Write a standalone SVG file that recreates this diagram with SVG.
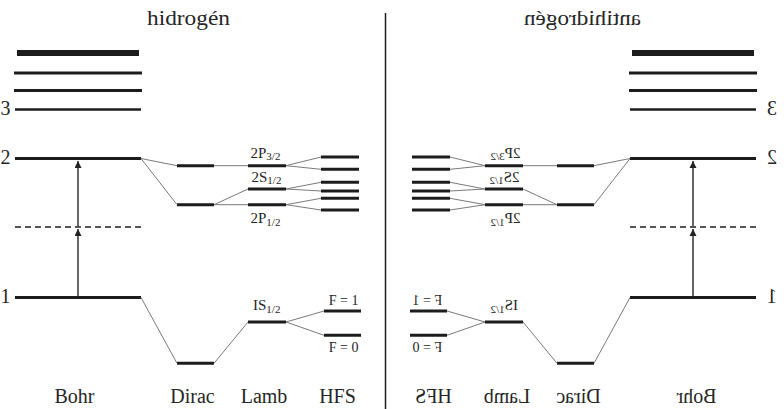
<svg xmlns="http://www.w3.org/2000/svg" width="784" height="409" viewBox="0 0 784 409">
  <style>
    .lvl { stroke: #1c1c1c; stroke-width: 3; fill: none; }
    .top { stroke-width: 6; }
    .n3 { stroke-width: 2.5; }
    .dash { stroke: #555; stroke-width: 2; stroke-dasharray: 6 4; }
    .conn { stroke: #7a7a7a; stroke-width: 1; fill: none; }
    .arrow { stroke: #333; stroke-width: 1.5; fill: none; marker-end: url(#head); }
    .divider { stroke: #1c1c1c; stroke-width: 1.5; }
    text { font-family: "Liberation Serif", "DejaVu Serif", serif; font-weight: normal; fill: #262626; }
    .title { font-size: 22px; text-anchor: middle; }
    .axis { font-size: 20px; text-anchor: middle; }
    .num { font-size: 20px; text-anchor: end; }
    .numL { font-size: 20px; text-anchor: start; }
    .term { font-size: 15px; }
    .sub { font-size: 11px; }
    .f { font-size: 14px; text-anchor: end; }
  </style>
  <defs>
    <marker id="head" markerUnits="userSpaceOnUse" markerWidth="8" markerHeight="8" refX="7" refY="3.5" orient="auto">
      <path d="M0,0 L7,3.5 L0,7 Z" fill="#222"/>
    </marker>
  </defs>

  <rect width="784" height="409" fill="#fff"/>

  <!-- vertical separator between the two halves -->
  <line class="divider" x1="385.5" y1="13" x2="385.5" y2="409"/>

  <!-- ===== hydrogen ===== -->
  <g id="hydrogen">
    <text class="title" x="188.5" y="25" textLength="83" lengthAdjust="spacingAndGlyphs">hidrogén</text>

    <g id="h-bohr">
      <line class="lvl top" x1="17" y1="53" x2="139" y2="53"/>
      <line class="lvl" x1="14" y1="73" x2="142" y2="73"/>
      <line class="lvl" x1="14" y1="90.5" x2="142" y2="90.5"/>
      <line class="lvl n3" x1="15" y1="109.5" x2="141" y2="109.5"/>
      <line class="lvl" x1="15" y1="158.5" x2="141" y2="158.5"/>
      <line class="dash" x1="15" y1="227" x2="141" y2="227"/>
      <line class="lvl" x1="15" y1="297.5" x2="141" y2="297.5"/>
      <text class="numL" x="0.5" y="115">3</text>
      <text class="numL" x="0.5" y="164">2</text>
      <text class="numL" x="0.5" y="303">1</text>
      <text class="axis" x="74.5" y="403">Bohr</text>
    </g>

    <g id="h-dirac">
      <line class="lvl" x1="177" y1="165.7" x2="214" y2="165.7"/>
      <line class="lvl" x1="177" y1="204.7" x2="214" y2="204.7"/>
      <line class="lvl" x1="177" y1="363.3" x2="214" y2="363.3"/>
      <text class="axis" x="192.5" y="403">Dirac</text>
    </g>

    <g id="h-lamb">
      <line class="lvl" x1="248" y1="165.7" x2="286" y2="165.7"/>
      <line class="lvl" x1="248" y1="189" x2="286" y2="189"/>
      <line class="lvl" x1="248" y1="204.7" x2="286" y2="204.7"/>
      <line class="lvl" x1="248" y1="322" x2="286" y2="322"/>
      <text class="term" x="250.5" y="157.5">2P<tspan class="sub" dy="2.5">3/2</tspan></text>
      <text class="term" x="251.5" y="181.5">2S<tspan class="sub" dy="2.5">1/2</tspan></text>
      <text class="term" x="250.5" y="223">2P<tspan class="sub" dy="2.5">1/2</tspan></text>
      <text class="term" x="253" y="310">IS<tspan class="sub" dy="2.5">1/2</tspan></text>
      <text class="axis" x="264" y="403">Lamb</text>
    </g>

    <g id="h-hfs">
      <line class="lvl" x1="321" y1="157" x2="359" y2="157"/>
      <line class="lvl" x1="321" y1="169.3" x2="359" y2="169.3"/>
      <line class="lvl" x1="321" y1="182.3" x2="359" y2="182.3"/>
      <line class="lvl" x1="321" y1="191" x2="359" y2="191"/>
      <line class="lvl" x1="321" y1="198.3" x2="359" y2="198.3"/>
      <line class="lvl" x1="321" y1="210" x2="359" y2="210"/>
      <line class="lvl" x1="324" y1="311" x2="361" y2="311"/>
      <line class="lvl" x1="324" y1="335.3" x2="361" y2="335.3"/>
      <text class="f" x="358.5" y="305">F = 1</text>
      <text class="f" x="358.5" y="351.5">F = 0</text>
      <text class="axis" x="337.5" y="403">HFS</text>
    </g>

    <g id="h-connectors">
      <path class="conn" d="M141,158.5 L177,165.7 M141,158.5 L177,204.7
        M214,165.7 L248,165.7 M214,204.7 L248,189 M214,204.7 L248,204.7
        M286,165.7 L321,157 M286,165.7 L321,169.3
        M286,189 L321,182.3 M286,189 L321,191
        M286,204.7 L321,198.3 M286,204.7 L321,210
        M141,297.5 L177,363.3 M214,363.3 L248,322
        M286,322 L324,311 M286,322 L324,335.3"/>
      <line class="arrow" x1="78" y1="226" x2="78" y2="161"/>
      <line class="arrow" x1="78" y1="296.5" x2="78" y2="229"/>
    </g>
  </g>

  <!-- ===== antihydrogen: mirror image about x = 385.5 ===== -->
  <g id="antihydrogen" transform="matrix(-1 0 0 1 771 0)">
    <text class="title" x="188.5" y="25" textLength="117" lengthAdjust="spacingAndGlyphs">antihidrogén</text>

    <g id="ah-bohr">
      <line class="lvl top" x1="17" y1="53" x2="139" y2="53"/>
      <line class="lvl" x1="14" y1="73" x2="142" y2="73"/>
      <line class="lvl" x1="14" y1="90.5" x2="142" y2="90.5"/>
      <line class="lvl n3" x1="15" y1="109.5" x2="141" y2="109.5"/>
      <line class="lvl" x1="15" y1="158.5" x2="141" y2="158.5"/>
      <line class="dash" x1="15" y1="227" x2="141" y2="227"/>
      <line class="lvl" x1="15" y1="297.5" x2="141" y2="297.5"/>
      <text class="num" x="4" y="115">3</text>
      <text class="num" x="4" y="164">2</text>
      <text class="num" x="4" y="303">1</text>
      <text class="axis" x="74.5" y="403">Bohr</text>
    </g>

    <g id="ah-dirac">
      <line class="lvl" x1="177" y1="165.7" x2="214" y2="165.7"/>
      <line class="lvl" x1="177" y1="204.7" x2="214" y2="204.7"/>
      <line class="lvl" x1="177" y1="363.3" x2="214" y2="363.3"/>
      <text class="axis" x="192.5" y="403">Dirac</text>
    </g>

    <g id="ah-lamb">
      <line class="lvl" x1="248" y1="165.7" x2="286" y2="165.7"/>
      <line class="lvl" x1="248" y1="189" x2="286" y2="189"/>
      <line class="lvl" x1="248" y1="204.7" x2="286" y2="204.7"/>
      <line class="lvl" x1="248" y1="322" x2="286" y2="322"/>
      <text class="term" x="250.5" y="157.5">2P<tspan class="sub" dy="2.5">3/2</tspan></text>
      <text class="term" x="251.5" y="181.5">2S<tspan class="sub" dy="2.5">1/2</tspan></text>
      <text class="term" x="250.5" y="223">2P<tspan class="sub" dy="2.5">1/2</tspan></text>
      <text class="term" x="253" y="310">IS<tspan class="sub" dy="2.5">1/2</tspan></text>
      <text class="axis" x="264" y="403">Lamb</text>
    </g>

    <g id="ah-hfs">
      <line class="lvl" x1="321" y1="157" x2="359" y2="157"/>
      <line class="lvl" x1="321" y1="169.3" x2="359" y2="169.3"/>
      <line class="lvl" x1="321" y1="182.3" x2="359" y2="182.3"/>
      <line class="lvl" x1="321" y1="191" x2="359" y2="191"/>
      <line class="lvl" x1="321" y1="198.3" x2="359" y2="198.3"/>
      <line class="lvl" x1="321" y1="210" x2="359" y2="210"/>
      <line class="lvl" x1="324" y1="311" x2="361" y2="311"/>
      <line class="lvl" x1="324" y1="335.3" x2="361" y2="335.3"/>
      <text class="f" x="358.5" y="305">F = 1</text>
      <text class="f" x="358.5" y="351.5">F = 0</text>
      <text class="axis" x="337.5" y="403">HFS</text>
    </g>

    <g id="ah-connectors">
      <path class="conn" d="M141,158.5 L177,165.7 M141,158.5 L177,204.7
        M214,165.7 L248,165.7 M214,204.7 L248,189 M214,204.7 L248,204.7
        M286,165.7 L321,157 M286,165.7 L321,169.3
        M286,189 L321,182.3 M286,189 L321,191
        M286,204.7 L321,198.3 M286,204.7 L321,210
        M141,297.5 L177,363.3 M214,363.3 L248,322
        M286,322 L324,311 M286,322 L324,335.3"/>
      <line class="arrow" x1="78" y1="226" x2="78" y2="161"/>
      <line class="arrow" x1="78" y1="296.5" x2="78" y2="229"/>
    </g>
  </g>
</svg>
